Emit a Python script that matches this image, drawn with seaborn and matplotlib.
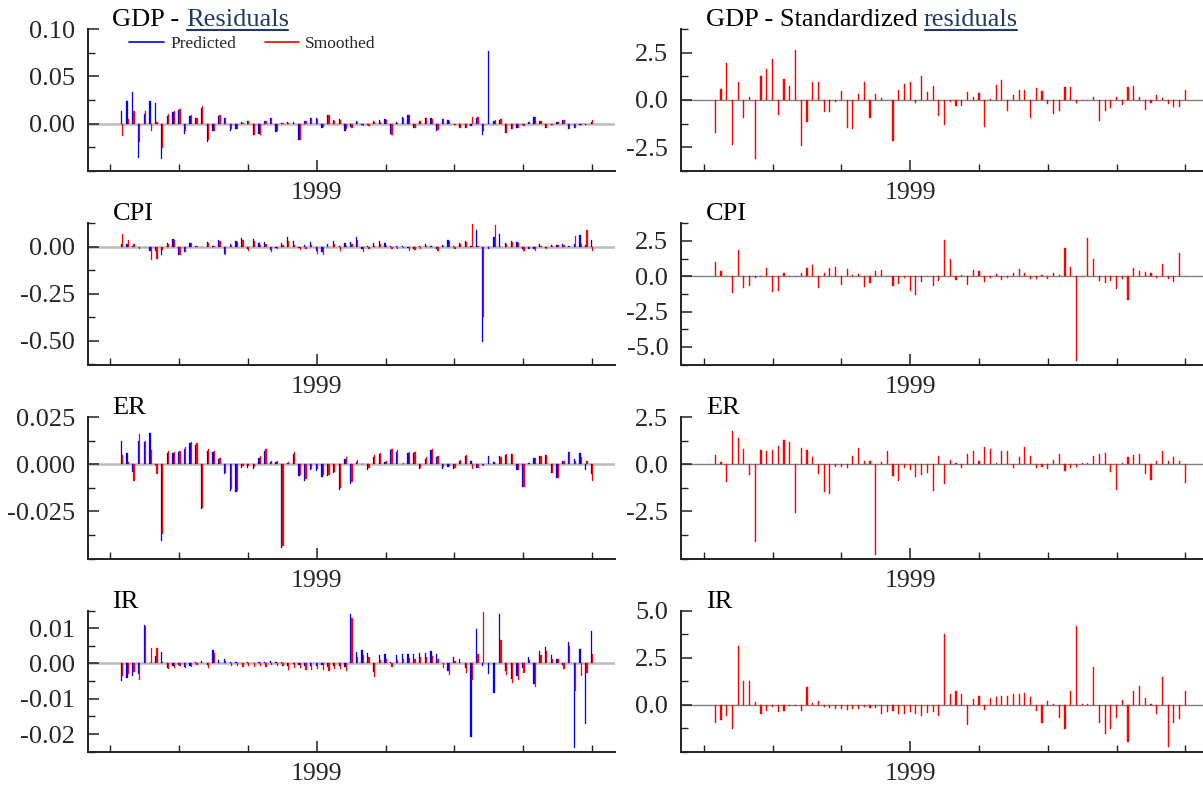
import numpy as np
import pandas as pd
import matplotlib
matplotlib.use("Agg")
import matplotlib.pyplot as plt
from matplotlib.lines import Line2D
from matplotlib.transforms import IdentityTransform
import seaborn as sns

# ---------------- data ----------------
# month index counted from January 1996 (tick every 12 months)
months = list(range(2, 85))

gdp_pred = [0.0129, 0.0236, 0.0330, -0.0364, 0.0100, 0.0236, 0.0220, -0.0380, 0.0080, 0.0120,
            0.0146, -0.0107, 0.0075, 0.0054, 0.0170, -0.0193, -0.0075, 0.0075, 0.0057, -0.0080,
            -0.0057, 0.0014, 0.0030, -0.0118, -0.0110, 0.0032, 0.0064, -0.0090, 0.0010, 0.0020,
            0.0018, -0.0179, 0.0030, 0.0060, 0.0060, -0.0043, 0.0086, 0.0036, 0.0050, -0.0075,
            -0.0032, 0.0030, -0.0020, -0.0018, 0.0030, 0.0036, 0.0050, -0.0107, 0.0018, 0.0068,
            0.0093, -0.0043, 0.0030, 0.0057, 0.0060, -0.0075, 0.0043, 0.0036, -0.0010, -0.0050,
            -0.0046, -0.0030, 0.0057, -0.0120, 0.0770, 0.0032, 0.0036, -0.0096, -0.0060, -0.0050,
            -0.0018, 0.0014, 0.0068, 0.0025, -0.0043, -0.0018, 0.0018, 0.0040, -0.0054, -0.0043,
            -0.0018, -0.0018, 0.0018]
gdp_smooth = [-0.0129, 0.0046, 0.0136, -0.0200, 0.0129, -0.0075, 0.0014, -0.0257, 0.0104, 0.0136,
              0.0154, -0.0080, 0.0093, 0.0064, 0.0190, -0.0180, -0.0075, 0.0090, 0.0057, -0.0057,
              -0.0057, 0.0003, 0.0025, -0.0118, -0.0118, 0.0032, 0.0064, -0.0080, 0.0010, 0.0007,
              0.0000, -0.0180, 0.0030, 0.0060, 0.0050, -0.0040, 0.0090, 0.0025, 0.0036, -0.0060,
              -0.0043, 0.0014, -0.0025, -0.0025, 0.0018, 0.0020, 0.0036, -0.0118, 0.0007, 0.0064,
              0.0086, -0.0043, 0.0030, 0.0054, 0.0050, -0.0070, 0.0043, 0.0032, -0.0020, -0.0050,
              -0.0046, 0.0071, 0.0068, -0.0075, 0.0000, 0.0036, 0.0050, -0.0096, -0.0060, -0.0050,
              -0.0025, 0.0018, 0.0071, 0.0025, -0.0043, -0.0018, 0.0018, 0.0040, -0.0054, -0.0043,
              -0.0018, -0.0007, 0.0040]

cpi_pred = [0.016, 0.016, 0.005, 0.000, -0.002, -0.020, -0.020, -0.046, 0.018, 0.039,
            -0.041, -0.030, 0.021, 0.005, -0.002, 0.025, 0.005, 0.036, -0.039, 0.016,
            0.032, 0.048, -0.009, 0.041, 0.021, 0.027, -0.016, -0.005, 0.021, 0.050,
            0.030, -0.005, 0.009, 0.027, -0.020, -0.025, 0.016, 0.032, 0.004, 0.021,
            0.025, 0.054, -0.014, 0.004, 0.021, 0.030, 0.018, 0.007, 0.004, 0.005,
            -0.005, -0.009, 0.004, 0.016, 0.005, -0.011, 0.009, 0.0375, 0.005, 0.021,
            0.032, 0.007, 0.0875, -0.505, -0.0125, 0.054, 0.070, 0.021, 0.032, 0.027,
            -0.014, -0.009, -0.014, 0.016, -0.004, 0.009, 0.011, 0.016, 0.007, 0.016,
            0.064, 0.009, 0.0375]
cpi_smooth = [0.070, 0.0375, 0.016, -0.0125, -0.002, -0.070, -0.064, -0.016, 0.014, 0.036,
              -0.041, -0.030, 0.021, 0.005, -0.002, 0.021, 0.002, 0.032, -0.043, 0.011,
              0.025, 0.0375, -0.021, 0.029, 0.011, 0.014, -0.029, -0.0125, 0.011, 0.032,
              0.011, -0.018, -0.009, 0.011, -0.036, -0.043, -0.002, 0.016, -0.021, 0.007,
              0.016, 0.0375, -0.030, -0.014, 0.007, 0.016, 0.005, -0.009, -0.009, -0.005,
              -0.021, -0.016, -0.009, 0.007, -0.002, -0.020, 0.005, 0.030, -0.0125, 0.0125,
              0.025, 0.121, 0.007, -0.373, 0.000, 0.114, 0.000, 0.016, 0.027, 0.021,
              -0.021, -0.014, -0.020, 0.007, -0.011, 0.005, 0.009, 0.009, 0.002, 0.059,
              0.0125, 0.091, -0.023]

er_pred = [0.0123, 0.00625, -0.0041, 0.0123, 0.0120, 0.0164, -0.0005, -0.0407, 0.00625, 0.0059,
           0.0064, 0.0080, 0.0114, 0.0105, -0.0238, 0.0071, 0.0064, 0.0027, -0.0050, -0.0139,
           -0.0148, -0.0018, -0.0020, -0.0025, 0.0036, 0.0071, 0.0011, 0.0011, -0.0443, 0.0007,
           0.0057, -0.0064, -0.0086, -0.0029, -0.0036, -0.0068, -0.0064, -0.0046, -0.0134, 0.0030,
           -0.0104, 0.0011, 0.0000, -0.0029, 0.0039, 0.0054, 0.0011, 0.0077, 0.0068, 0.0004,
           0.0059, 0.0061, -0.0025, 0.0030, 0.0077, 0.0038, -0.0023, -0.0014, -0.0027, 0.0018,
           0.0045, 0.0016, -0.0018, -0.0004, 0.0046, 0.0011, 0.0046, 0.0052, 0.0057, -0.0032,
           -0.0121, 0.0005, 0.0036, 0.0045, 0.0052, -0.0046, -0.0073, 0.0016, 0.0066, 0.0027,
           0.0061, -0.0029, -0.0052]
er_smooth = [0.0048, 0.0013, -0.0086, 0.0160, 0.0125, 0.0075, -0.0050, -0.0371, 0.0070, 0.0064,
             0.0070, 0.0090, 0.0120, 0.0112, -0.0232, 0.0079, 0.0070, 0.0036, -0.0046, -0.0132,
             -0.0141, -0.0010, -0.0010, -0.0016, 0.0045, 0.0079, 0.0020, 0.0018, -0.0434, 0.0014,
             0.0068, -0.0054, -0.0077, -0.0023, -0.0027, -0.0059, -0.0055, -0.0039, -0.0127, 0.0039,
             -0.0095, 0.0021, 0.0004, -0.0020, 0.0050, 0.00625, 0.0018, 0.0084, 0.0075, 0.0005,
             0.0066, 0.0068, -0.0018, 0.0038, 0.0084, 0.0043, -0.0016, -0.0009, -0.0021, 0.0021,
             0.0050, -0.0027, -0.0018, -0.0010, 0.0000, 0.0004, 0.0039, 0.0054, 0.0057, -0.0032,
             -0.0121, 0.0005, 0.0036, 0.0045, 0.0050, -0.0046, -0.0073, 0.0016, 0.0066, 0.0016,
             0.0038, 0.0020, -0.0088]

ir_pred = [-0.0051, -0.0041, -0.0035, -0.0031, 0.0109, 0.0002, 0.0021, 0.0032, -0.0012, -0.0007,
           -0.0003, -0.0009, -0.0006, 0.0004, 0.0006, -0.0003, 0.0038, 0.0009, 0.0014, 0.0004,
           0.0003, 0.0001, 0.0003, 0.0000, 0.0004, 0.0004, 0.0006, 0.0005, 0.0005, -0.0006,
           -0.0002, -0.0003, -0.0006, -0.0006, -0.0006, -0.0005, -0.0010, -0.0007, -0.0007, -0.0010,
           0.0140, 0.0033, 0.0038, 0.0031, -0.0024, 0.0024, 0.0028, 0.0004, 0.0024, 0.0027,
           0.0027, 0.0028, 0.0031, 0.0031, 0.0034, 0.0027, 0.0000, -0.0021, 0.0018, 0.0014,
           -0.0012, -0.0209, 0.0097, -0.0006, -0.0030, -0.0084, 0.0139, -0.0022, -0.0043, -0.0036,
           -0.0013, 0.0019, -0.0057, 0.0035, 0.0047, 0.0024, 0.0012, -0.0005, 0.0062, -0.0239,
           0.0040, -0.0172, 0.0092]
ir_smooth = [-0.0036, -0.0029, -0.0023, -0.0047, 0.0106, 0.0043, 0.0043, 0.0005, -0.0016, -0.0012,
             -0.0006, -0.0014, -0.0011, -0.0003, 0.0000, -0.0012, 0.0031, 0.0002, 0.0006, -0.0006,
             -0.0006, -0.0009, -0.0008, -0.0010, -0.0007, -0.0010, -0.0005, -0.0006, -0.0006, -0.0018,
             -0.0013, -0.0013, -0.0018, -0.0019, -0.0016, -0.0018, -0.0022, -0.0016, -0.0016, -0.0021,
             0.0128, 0.0019, 0.0024, 0.0018, -0.0038, 0.0009, 0.0012, -0.0011, 0.0009, 0.0012,
             0.0015, 0.0014, 0.0018, 0.0018, 0.0021, 0.0014, -0.0013, -0.0034, 0.0006, 0.0000,
             -0.0026, -0.0047, 0.0026, 0.0145, 0.0000, 0.0000, 0.0066, -0.0033, -0.0055, -0.0047,
             -0.0027, 0.0009, -0.0068, 0.0024, 0.0035, 0.0012, 0.0012, -0.0017, 0.0049, -0.0078,
             -0.0035, -0.0027, 0.0026]

gdp_std = [-1.77, 0.61, 1.95, -2.39, 0.93, -0.93, 0.16, -3.11, 1.30, 1.63,
           2.18, -0.82, 1.14, 0.77, 2.64, -2.46, -1.16, 0.98, 0.98, -0.66,
           -0.66, -0.125, 0.46, -1.50, -1.55, 0.34, 0.98, -0.98, 0.34, 0.11,
           -0.02, -2.18, 0.54, 0.875, 0.98, -0.16, 1.30, 0.41, 0.75, -0.84,
           -1.32, -0.125, -0.34, -0.32, 0.45, 0.14, 0.39, -1.43, 0.05, 0.79,
           1.07, -0.61, 0.25, 0.54, 0.52, -0.95, 0.64, 0.50, -0.23, -0.77,
           -0.57, 0.71, 0.71, -0.16, 0.02, 0.02, 0.16, -1.125, -0.57, -0.41,
           0.16, -0.27, 0.71, 0.73, 0.14, -0.54, -0.18, 0.29, 0.125, -0.21,
           -0.39, -0.39, 0.55]
cpi_std = [0.98, 0.38, 0.00, -1.21, 1.88, -0.86, -0.67, -0.12, 0.02, 0.60,
           -1.10, -1.02, 0.21, 0.05, 0.02, 0.24, 0.60, 0.81, -0.83, 0.21,
           0.55, 0.69, -0.60, 0.52, 0.07, 0.19, -0.74, -0.45, 0.38, 0.43,
           0.00, -0.67, -0.52, -0.14, -1.07, -1.31, -0.38, 0.05, -0.69, -0.36,
           2.55, 1.21, -0.26, 0.07, -0.60, 0.45, 0.38, -0.43, -0.14, 0.17,
           -0.24, -0.10, 0.24, 0.48, 0.24, -0.21, -0.21, 0.10, -0.17, 0.26,
           0.10, 2.00, 0.64, -6.02, 0.00, 2.69, 1.24, -0.31, -0.45, -0.31,
           -0.88, -0.17, -1.67, 0.60, 0.40, 0.33, 0.21, -0.10, 0.88, -0.17,
           -0.38, 1.62, 0.00]
er_std = [0.52, 0.14, -0.93, 1.75, 1.375, 0.82, -0.57, -4.125, 0.75, 0.71,
          0.75, 1.00, 1.30, 1.21, -2.59, 0.86, 0.77, 0.375, -0.52, -1.46,
          -1.55, -0.125, -0.14, -0.18, 0.46, 0.875, 0.20, 0.18, -4.84, 0.14,
          0.73, -0.625, -0.86, -0.21, -0.32, -0.66, -0.59, -0.45, -1.41, 0.43,
          -1.05, 0.21, 0.05, -0.21, 0.55, 0.70, 0.20, 0.91, 0.80, 0.07,
          0.73, 0.73, -0.21, 0.41, 0.91, 0.46, -0.20, -0.125, -0.25, 0.23,
          0.54, -0.34, -0.21, -0.125, 0.05, 0.05, 0.43, 0.57, 0.61, -0.39,
          -1.375, 0.05, 0.375, 0.48, 0.55, -0.52, -0.82, 0.18, 0.73, 0.18,
          0.41, 0.20, -0.98]
ir_std = [-1.00, -0.82, -0.59, -1.32, 3.11, 1.27, 1.27, 0.14, -0.48, -0.32,
          -0.125, -0.39, -0.32, -0.07, -0.05, -0.34, 0.93, 0.07, 0.20, -0.14,
          -0.16, -0.25, -0.21, -0.29, -0.21, -0.23, -0.125, -0.16, -0.16, -0.50,
          -0.375, -0.32, -0.50, -0.50, -0.41, -0.50, -0.59, -0.46, -0.41, -0.59,
          3.73, 0.59, 0.73, 0.54, -1.07, 0.32, 0.46, -0.29, 0.36, 0.43,
          0.46, 0.48, 0.55, 0.55, 0.625, 0.43, -0.32, -0.96, 0.20, 0.05,
          -0.70, -1.30, 0.73, 4.18, 0.05, 0.05, 1.98, -0.95, -1.54, -1.32,
          -0.71, 0.25, -1.96, 0.71, 1.00, 0.36, 0.04, -0.48, 1.45, -2.27,
          -0.98, -0.77, 0.73]

variables = ["GDP", "CPI", "ER", "IR"]
series_names = ["Predicted", "Smoothed"]
year_tick = 36
year_label = "1999"
minor_x = [0, 12, 24, 48, 60, 72, 84]

left_ylim = [(-0.05, 0.10), (-0.625, 0.125), (-0.05, 0.025), (-0.025, 0.015)]
left_major = [[0.0, 0.05, 0.10], [-0.5, -0.25, 0.0], [-0.025, 0.0, 0.025], [-0.02, -0.01, 0.0, 0.01]]
left_labels = [["0.00", "0.05", "0.10"], ["-0.50", "-0.25", "0.00"],
               ["-0.025", "0.000", "0.025"], ["-0.02", "-0.01", "0.00", "0.01"]]
left_minor = [[-0.05, -0.025, 0.025, 0.075], [-0.625, -0.375, -0.125, 0.125],
              [-0.05, -0.0375, -0.0125, 0.0125], [-0.025, -0.015, -0.005, 0.005, 0.015]]

right_ylim = [(-3.75, 3.75), (-6.25, 3.75), (-5.0, 2.5), (-2.5, 5.0)]
right_major = [[-2.5, 0.0, 2.5], [-5.0, -2.5, 0.0, 2.5], [-2.5, 0.0, 2.5], [0.0, 2.5, 5.0]]
right_minor = [[-3.75, -1.25, 1.25, 3.75], [-6.25, -3.75, -1.25, 1.25, 3.75],
               [-5.0, -3.75, -1.25, 1.25], [-2.5, -1.25, 1.25, 3.75]]

pred_list = [gdp_pred, cpi_pred, er_pred, ir_pred]
smooth_list = [gdp_smooth, cpi_smooth, er_smooth, ir_smooth]
std_list = [gdp_std, cpi_std, er_std, ir_std]

# ---------------- style ----------------
sns.set_theme(style="ticks")
plt.rcParams["font.family"] = ["Liberation Serif", "DejaVu Serif"]
BLUE = "#0000ff"
RED = "#ff0000"
LINK = "#1f3a64"
SPINE = "#222222"

W, H = 1203, 789
fig = plt.figure(figsize=(W / 100, H / 100), dpi=100)

row_tops = [29.4, 223.3, 417.3, 610.5]
AX_H = 141.2
LEFT_X, RIGHT_X, AX_W = 87.5, 680.8, 527.5


def px_axes(x0, top):
    return fig.add_axes([x0 / W, 1 - (top + AX_H) / H, AX_W / W, AX_H / H])


def outline_bars(ax, lw):
    for p in ax.patches:
        p.set_edgecolor(p.get_facecolor())
        p.set_linewidth(lw)


def style_axes(ax, ylim, major, labels, minor):
    ax.set_xlim(-4, 88)
    ax.set_ylim(*ylim)
    for s in ["top", "right"]:
        ax.spines[s].set_visible(False)
    for s in ["left", "bottom"]:
        ax.spines[s].set_color(SPINE)
        ax.spines[s].set_linewidth(1.4)
    ax.set_xticks([year_tick])
    ax.set_xticklabels([year_label])
    ax.set_xticks(minor_x, minor=True)
    ax.set_yticks(major)
    ax.set_yticklabels(labels)
    ax.set_yticks(minor, minor=True)
    ax.tick_params(axis="both", which="both", direction="in", color=SPINE)
    ax.tick_params(axis="both", which="major", length=8, width=1.1)
    ax.tick_params(axis="both", which="minor", length=5, width=1.0)
    ax.tick_params(axis="y", which="major", labelsize=19, pad=9)
    ax.tick_params(axis="x", which="major", labelsize=18.5, pad=8)
    ax.set_xlabel("")
    ax.set_ylabel("")
    ax.grid(False)


titles = []  # (ax, [(text, color, underline), ...])

for r, var in enumerate(variables):
    # left: residuals, predicted vs smoothed
    axl = px_axes(LEFT_X, row_tops[r])
    n = len(months)
    df = pd.DataFrame({
        "month": months + months,
        "value": pred_list[r] + smooth_list[r],
        "series": [series_names[0]] * n + [series_names[1]] * n,
    })
    axl.axhline(0, color="#bdbdbd", lw=1.8, zorder=0.5)
    sns.barplot(data=df, x="month", y="value", hue="series", native_scale=True,
                dodge=True, width=0.44, palette={series_names[0]: BLUE, series_names[1]: RED},
                saturation=1, errorbar=None, linewidth=0, legend=False, ax=axl)
    outline_bars(axl, 0.2)
    style_axes(axl, left_ylim[r], left_major[r], left_labels[r], left_minor[r])

    # right: standardized residuals
    axr = px_axes(RIGHT_X, row_tops[r])
    dfs = pd.DataFrame({"month": months, "value": std_list[r]})
    axr.axhline(0, color="#808080", lw=1.0, zorder=0.5)
    sns.barplot(data=dfs, x="month", y="value", native_scale=True, width=0.2,
                color=RED, saturation=1, errorbar=None, linewidth=0, ax=axr)
    outline_bars(axr, 0.3)
    rlabels = ["%.1f" % v for v in right_major[r]]
    style_axes(axr, right_ylim[r], right_major[r], rlabels, right_minor[r])

    if r == 0:
        titles.append((axl, [("GDP -", "black", False), ("Residuals", LINK, True)]))
        titles.append((axr, [("GDP - Standardized", "black", False), ("residuals", LINK, True)]))
        handles = [Line2D([], [], color=BLUE, lw=1.2), Line2D([], [], color=RED, lw=1.2)]
        axl.legend(handles, series_names, loc="center", bbox_to_anchor=(0.313, 0.897),
                   ncol=2, frameon=False, fontsize=12.5, handlelength=2.0,
                   handletextpad=0.35, columnspacing=1.65)
    else:
        titles.append((axl, [(var, "black", False)]))
        titles.append((axr, [(var, "black", False)]))

underlined = []
for ax, parts in titles:
    prev = None
    for txt, col, ul in parts:
        if prev is None:
            t = ax.annotate(txt, xy=(0, 1), xycoords="axes fraction", xytext=(25, 3),
                            textcoords="offset pixels", ha="left", va="baseline",
                            fontsize=19, color=col, annotation_clip=False)
        else:
            t = ax.annotate(txt, xy=(1, 0), xycoords=prev, xytext=(6, 0),
                            textcoords="offset pixels", ha="left", va="bottom",
                            fontsize=19, color=col, annotation_clip=False)
        if ul:
            underlined.append(t)
        prev = t

fig.canvas.draw()
for t in underlined:
    bb = t.get_window_extent()
    y = bb.y0 + 1.5
    fig.add_artist(Line2D([bb.x0 + 1, bb.x1 - 1], [y, y], color=LINK, lw=1.5,
                          transform=IdentityTransform()))

fig.savefig("out.png", dpi=100)
